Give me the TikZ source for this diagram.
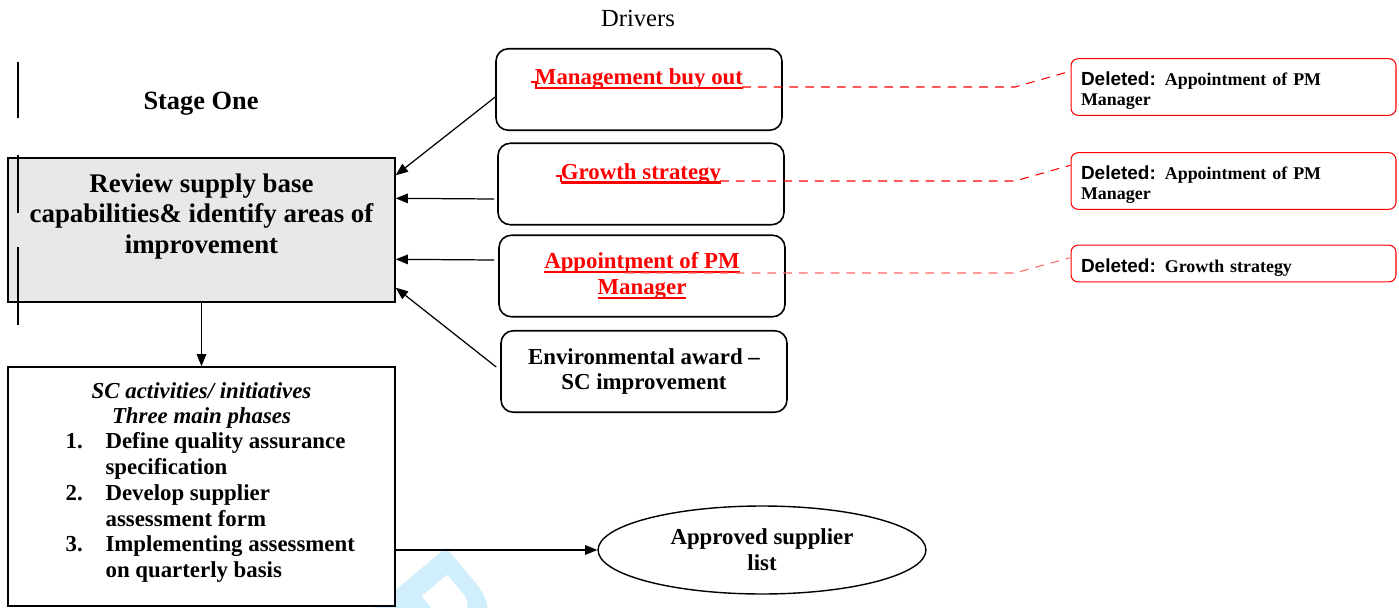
\documentclass[tikz,border=0pt]{standalone}
\usepackage{fontspec}
\setmainfont{Liberation Serif}
\newfontfamily\delfont{Liberation Sans}
\usetikzlibrary{arrows.meta}
\usetikzlibrary{shapes,calc}
\definecolor{boxgray}{RGB}{232,232,232}
\definecolor{wmark}{RGB}{208,238,252}
\newcommand{\insred}[1]{{\color{red}\setbox0\hbox{#1}\rlap{\rule[-2.6pt]{\wd0}{1.3pt}}\box0}}
\newcommand{\deltag}{\rule{0pt}{12pt}{\delfont\bfseries\fontsize{10.8pt}{11.3pt}\selectfont Deleted:}}

\begin{document}
\begin{tikzpicture}[x=0.02cm, y=-0.02cm, line width=0.7pt,
    >={Triangle[length=7pt, width=5.5pt]},
    stagebox/.style = {draw, line width=0.8pt, minimum width=7.74cm, align=center},
    driver/.style = {draw, rounded corners=7pt, line width=0.9pt, minimum width=5.72cm,
        minimum height=1.63cm, align=center, font=\bfseries\fontsize{13pt}{14.7pt}\selectfont},
    delbox/.style = {draw=red, rounded corners=4pt, line width=0.6pt, inner xsep=0.2cm,
        text width=6.1cm, align=left, font=\bfseries\fontsize{10.2pt}{11.3pt}\selectfont},
    deline/.style = {red, line width=0.6pt, dash pattern=on 5pt off 4pt},
    bar/.style = {line width=0.9pt}]
    \useasboundingbox (0,0) rectangle (1399,608);

    % Watermark
    \node[text=wmark, font=\delfont\bfseries\fontsize{85pt}{85pt}\selectfont, rotate=-50,
        anchor=north west, inner sep=0pt] (wm) at (440,540) {P};

    % Nodes
    \node[font=\fontsize{14pt}{16pt}\selectfont] (drv) at (638,18) {Drivers};
    \node[font=\bfseries\fontsize{15pt}{17.6pt}\selectfont] (stage) at (201,104) {Stage One};

    \node[stagebox, fill=boxgray, minimum height=2.88cm,
        font=\bfseries\fontsize{15.3pt}{17.6pt}\selectfont] (main) at (201.5,230)
        {Review supply base\\ capabilities\& identify areas of\\ improvement\\[1pt] \mbox{}};

    \node[stagebox, fill=white, minimum height=4.78cm,
        font=\bfseries\fontsize{13pt}{14.7pt}\selectfont] (sc) at (201.5,486.5)
        {{\itshape SC activities/ initiatives}\\ {\itshape Three main phases}\\
        \hspace*{10pt}\begin{tabular}{@{}l@{\hspace{13pt}}l@{}}
        1. & Define quality assurance\\
           & specification\\
        2. & Develop supplier\\
           & assessment form\\
        3. & Implementing assessment\\
           & on quarterly basis
        \end{tabular}\\[2pt] \mbox{}};

    \node[driver] (d1) at (639,89.5) {\insred{Management buy out}\\ \mbox{}};
    \node[driver] (d2) at (641,184) {\insred{Growth strategy}\\ \mbox{}};
    \node[driver] (d3) at (642,276) {\insred{Appointment of PM}\\ \insred{Manager}};
    \node[driver] (d4) at (644,371.5) {Environmental award –\\ SC improvement};

    \node[draw, ellipse, line width=0.8pt, minimum width=6.56cm, minimum height=1.76cm,
        align=center, font=\bfseries\fontsize{13pt}{14.7pt}\selectfont] (apl) at (762,550)
        {Approved supplier\\ list};

    \node[delbox, minimum height=1.04cm] (del1) at (1233.5,87)
        {\deltag{} Appointment of PM\\ Manager};
    \node[delbox, minimum height=1.04cm] (del2) at (1233.5,181)
        {\deltag{} Appointment of PM\\ Manager};
    \node[delbox, minimum height=0.62cm] (del3) at (1233.5,263.5)
        {\deltag{} Growth strategy};

    \coordinate (mbo) at (742,87);
    \coordinate (gs) at (720,181);
    \coordinate (apm) at (625,273);
    \coordinate (k1) at (1015,87);
    \coordinate (k2) at (1015,181);
    \coordinate (k3) at (1015,273);

    % Change bars
    \draw[bar] (18,62) -- (18,118);
    \draw[bar] (18,155) -- (18,213);
    \draw[bar] (18,247) -- (18,325);

    % Insertion marks
    \draw[red, line width=1pt] (531,82) -- (536,82) -- (536,88);
    \draw[red, line width=1pt] (556,176) -- (561,176) -- (561,182);
    \draw[red, line width=0.8pt] (627,262) -- (627,273);

    % Edges
    \draw[->] ($(d1.west)+(0,7.5)$) -- ($(main.north east)+(0,18)$);
    \draw[->] ($(d2.west)+(-3,15)$) -- ($(main.north east)+(0,41)$);
    \draw[->] ($(d3.west)+(-4,-16)$) -- ($(main.north east)+(0,102)$);
    \draw[->] ($(d4.west)+(-4,-4.5)$) -- ($(main.south east)+(0,-15)$);
    \draw[->] (main.south) -- (sc.north);
    \draw[->] (sc.east |- apl.west) -- (apl.west);

    \draw[deline] (mbo) -- (k1) -- ($(del1.north west)+(0,13)$);
    \draw[deline] (gs) -- (k2) -- ($(del2.north west)+(0,13)$);
    \draw[deline, red!60] (apm) -- (k3) -- ($(del3.north west)+(0,13)$);

\end{tikzpicture}
\end{document}
